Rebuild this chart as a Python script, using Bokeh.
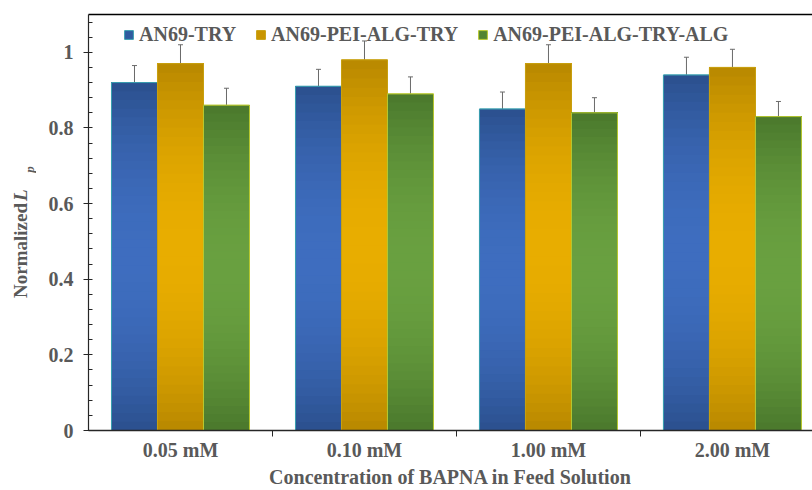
import numpy as np
from bokeh.plotting import figure
from bokeh.layouts import row
from bokeh.models import (ColumnDataSource, FixedTicker, Range1d, Legend, LegendItem,
                          Whisker, TeeHead, LinearAxis)
from bokeh.core.properties import value
from bokeh.embed import file_html
from bokeh.resources import INLINE

# ---------------- data ----------------
categories = ["0.05 mM", "0.10 mM", "1.00 mM", "2.00 mM"]
series_names = ["AN69-TRY", "AN69-PEI-ALG-TRY", "AN69-PEI-ALG-TRY-ALG"]
an69_try = [0.92, 0.91, 0.85, 0.94]
an69_pei_alg_try = [0.97, 0.98, 0.97, 0.96]
an69_pei_alg_try_alg = [0.86, 0.89, 0.84, 0.83]
err_try = [0.045, 0.045, 0.045, 0.047]
err_pei_alg_try = [0.05, 0.05, 0.05, 0.048]
err_pei_alg_try_alg = [0.045, 0.045, 0.04, 0.04]
y_ticks = [0.0, 0.2, 0.4, 0.6, 0.8, 1.0]
y_tick_labels = ["0", "0.2", "0.4", "0.6", "0.8", "1"]
y_minor_ticks = [0.04, 0.08, 0.12, 0.16, 0.24, 0.28, 0.32, 0.36, 0.44, 0.48, 0.52, 0.56,
                 0.64, 0.68, 0.72, 0.76, 0.84, 0.88, 0.92, 0.96, 1.04, 1.08]
y_title_parts = ["Normalized", "L", "p"]

values = [an69_try, an69_pei_alg_try, an69_pei_alg_try_alg]
errors = [err_try, err_pei_alg_try, err_pei_alg_try_alg]

# ---------------- styles ----------------
dark_cols = [(0x2b, 0x50, 0x8e), (0xb8, 0x88, 0x00), (0x4a, 0x78, 0x2c)]
light_cols = [(0x3e, 0x6d, 0xbf), (0xe8, 0xad, 0x00), (0x69, 0xa0, 0x40)]
edge_cols = ["#3a9fb0", "#c8a010", "#b8c830"]
legend_cols = ["#2f5b9f", "#c99500", "#528433"]
offsets = [-0.25, 0.0, 0.25]
bar_w = 0.25
font = "Liberation Serif"
txt_col = "#595959"
axis_col = "#262626"

y_range = Range1d(0, 1.1)
p = figure(width=776, height=490, output_backend="svg", toolbar_location=None,
           x_range=Range1d(0, 3.935), y_range=y_range,
           min_border_left=52, min_border_right=0, min_border_top=14, min_border_bottom=0)
p.xgrid.grid_line_color = None
p.ygrid.grid_line_color = None
p.outline_line_color = None
p.background_fill_color = "white"

centers = [i + 0.5 for i in range(len(categories))]

def hexc(c):
    return "#%02x%02x%02x" % tuple(int(round(v)) for v in c)

N = 40
legend_items = []
for s in range(3):
    xs = [c + offsets[s] for c in centers]
    base = p.vbar(x=xs, top=values[s], width=bar_w, bottom=0, fill_color=legend_cols[s],
                  line_color=edge_cols[s], line_width=1)
    legend_items.append(LegendItem(label=series_names[s], renderers=[base]))
    lefts, rights, bottoms, tops, cols = [], [], [], [], []
    for x, v in zip(xs, values[s]):
        for i in range(N):
            t = (i + 0.5) / N
            w = 1 - (2 * t - 1) ** 2
            col = [dark_cols[s][k] + (light_cols[s][k] - dark_cols[s][k]) * w for k in range(3)]
            lefts.append(x - bar_w / 2)
            rights.append(x + bar_w / 2)
            bottoms.append(v * i / N)
            tops.append(v)
            cols.append(hexc(col))
    src = ColumnDataSource(dict(left=lefts, right=rights, bottom=bottoms, top=tops, color=cols))
    p.quad(left="left", right="right", bottom="bottom", top="top", fill_color="color",
           line_color=None, source=src)
    p.vbar(x=xs, top=values[s], width=bar_w, bottom=0, fill_color=None,
           line_color=edge_cols[s], line_width=1)
    esrc = ColumnDataSource(dict(x=xs, upper=[v + e for v, e in zip(values[s], errors[s])],
                                 lower=[v - e for v, e in zip(values[s], errors[s])]))
    wh = Whisker(base="x", upper="upper", lower="lower", source=esrc,
                 line_color="#6a6a6a", line_width=1,
                 upper_head=TeeHead(size=5, line_color="#6a6a6a", line_width=1),
                 lower_head=TeeHead(size=5, line_color="#6a6a6a", line_width=1))
    p.add_layout(wh)

# ---------------- axes ----------------
xa = p.xaxis[0]
xa.ticker = FixedTicker(ticks=centers, minor_ticks=[1, 2, 3])
xa.major_label_overrides = dict(zip(centers, categories))
xa.major_tick_in = 0
xa.major_tick_out = 0
xa.minor_tick_in = 0
xa.minor_tick_out = 6
xa.minor_tick_line_color = axis_col
xa.axis_line_color = axis_col
xa.axis_line_width = 1.5
xa.major_label_standoff = 2
xa.major_label_text_font = font
xa.major_label_text_font_style = "bold"
xa.major_label_text_font_size = "20px"
xa.major_label_text_color = txt_col
xa.major_label_text_line_height = 1.0
xa.axis_label = "Concentration of BAPNA in Feed Solution"
xa.axis_label_text_font = font
xa.axis_label_text_font_style = "bold"
xa.axis_label_text_font_size = "20px"
xa.axis_label_text_color = txt_col
xa.axis_label_text_line_height = 1.0
xa.axis_label_standoff = 2

ya = p.yaxis[0]
ya.ticker = FixedTicker(ticks=y_ticks, minor_ticks=y_minor_ticks)
ya.major_label_overrides = dict(zip(y_ticks, y_tick_labels))
ya.major_tick_in = 4
ya.major_tick_out = 5
ya.minor_tick_in = 4
ya.minor_tick_out = 0
ya.major_tick_line_color = axis_col
ya.minor_tick_line_color = axis_col
ya.axis_line_color = axis_col
ya.axis_line_width = 1.2
ya.major_label_standoff = 10
ya.major_label_text_font = font
ya.major_label_text_font_style = "bold"
ya.major_label_text_font_size = "20px"
ya.major_label_text_color = txt_col

top_axis = LinearAxis(ticker=FixedTicker(ticks=[]), axis_line_color="black", axis_line_width=1.5,
                      major_tick_line_color=None, minor_tick_line_color=None)
p.add_layout(top_axis, "above")

legend = Legend(items=legend_items, orientation="horizontal", location=(35, 384),
                border_line_color=None, background_fill_alpha=0,
                glyph_width=11, glyph_height=11, label_standoff=5, spacing=19,
                padding=0, margin=0,
                label_text_font=font, label_text_font_style="bold",
                label_text_font_size="20px", label_text_color=txt_col)
p.add_layout(legend)

# ---------------- y-axis title panel (shares the y range) ----------------
q = figure(width=36, height=490, output_backend="svg", toolbar_location=None,
           x_range=Range1d(0, 36), y_range=y_range,
           x_axis_location=None, y_axis_location=None,
           min_border_left=0, min_border_right=0, min_border_top=0, min_border_bottom=0)
q.xgrid.grid_line_color = None
q.ygrid.grid_line_color = None
q.outline_line_color = None
q.text(x=[20], y=[0.476], text=[y_title_parts[0]], angle=np.pi / 2,
       text_font=value(font), text_font_style="bold", text_font_size="19px",
       text_color=txt_col, text_baseline="middle", text_align="center")
q.text(x=[20], y=[0.622], text=[y_title_parts[1]], angle=np.pi / 2,
       text_font=value(font), text_font_style="bold italic", text_font_size="19px",
       text_color=txt_col, text_baseline="middle", text_align="center")
q.text(x=[29], y=[0.69], text=[y_title_parts[2]], angle=np.pi / 2,
       text_font=value(font), text_font_style="bold italic", text_font_size="13px",
       text_color=txt_col, text_baseline="middle", text_align="center")

layout = row(q, p, spacing=0)
open("out.html", "w").write(file_html(layout, INLINE))
